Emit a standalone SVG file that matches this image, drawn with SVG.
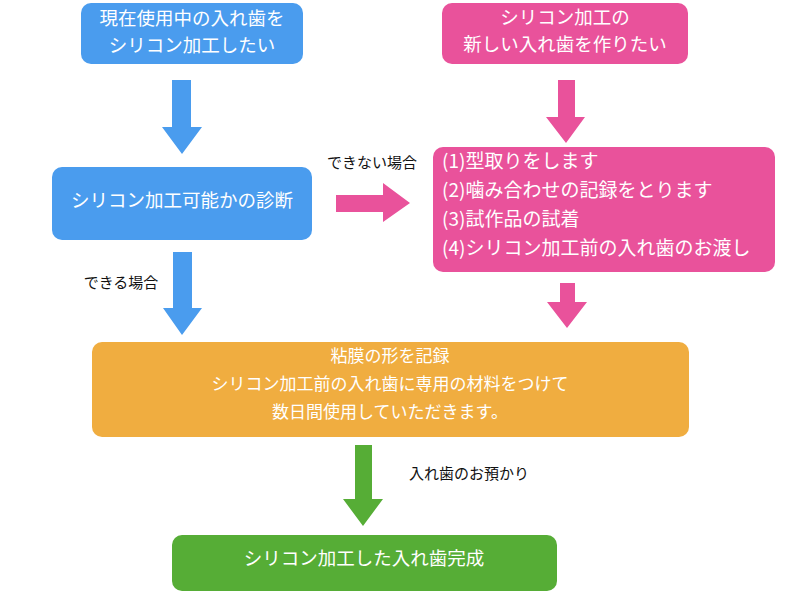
<svg xmlns="http://www.w3.org/2000/svg" width="800" height="599" viewBox="0 0 800 599">
<style>
  text { font-family: "Noto Sans CJK JP", "Noto Sans", sans-serif; }
  .w { fill: #ffffff; font-size: 18.5px; }
  .list { font-size: 19px; }
  .sm { font-size: 17px; }
  .lbl { fill: #111111; font-size: 15px; }
  .blue { fill: #4A9CEE; }
  .pink { fill: #E9529B; }
  .orange { fill: #F0AD40; }
  .green { fill: #56AD36; }
</style>
<rect width="800" height="599" fill="#ffffff"/>
<g id="connectors">
  <polygon class="blue" points="172,80 191,80 191,127 202,127 182,154 162,127 172,127"/>
  <polygon class="pink" points="558,80 575,80 575,117 585,117 566,143 546,117 558,117"/>
  <polygon class="pink" points="336,195 383,195 383,183 410,203 383,222 383,212 336,212"/>
  <polygon class="blue" points="173,252 192,252 192,308 202,308 182,335 163,308 173,308"/>
  <polygon class="pink" points="560,283 575,283 575,302 587,302 567,328 547,302 560,302"/>
  <polygon class="green" points="355,445 372,445 372,499 383,499 363,526 343,499 355,499"/>
  <text class="lbl" x="372" y="168" text-anchor="middle">できない場合</text>
  <text class="lbl" x="121" y="288" text-anchor="middle">できる場合</text>
  <text class="lbl" x="469" y="479" text-anchor="middle">入れ歯のお預かり</text>
</g>
<g id="n1">
  <rect class="blue" x="81" y="3" width="222" height="61" rx="10"/>
  <text class="w" x="192" y="25" text-anchor="middle">現在使用中の入れ歯を</text>
  <text class="w" x="192" y="52" text-anchor="middle">シリコン加工したい</text>
</g>
<g id="n2">
  <rect class="pink" x="442" y="3" width="246" height="61" rx="10"/>
  <text class="w" x="565" y="24" text-anchor="middle">シリコン加工の</text>
  <text class="w" x="565" y="51" text-anchor="middle">新しい入れ歯を作りたい</text>
</g>
<g id="n3">
  <rect class="blue" x="52" y="167" width="260" height="73" rx="10"/>
  <text class="w" x="182" y="207" text-anchor="middle">シリコン加工可能かの診断</text>
</g>
<g id="n4">
  <rect class="pink" x="433" y="147" width="342" height="125" rx="10"/>
  <text class="w list" x="442" y="168">(1)型取りをします</text>
  <text class="w list" x="442" y="197">(2)噛み合わせの記録をとります</text>
  <text class="w list" x="442" y="226">(3)試作品の試着</text>
  <text class="w list" x="442" y="255">(4)シリコン加工前の入れ歯のお渡し</text>
</g>
<g id="n5">
  <rect class="orange" x="92" y="342" width="597" height="95" rx="10"/>
  <text class="w sm" x="390" y="362" text-anchor="middle">粘膜の形を記録</text>
  <text class="w sm" x="390" y="390" text-anchor="middle">シリコン加工前の入れ歯に専用の材料をつけて</text>
  <text class="w sm" x="390" y="418" text-anchor="middle">数日間使用していただきます。</text>
</g>
<g id="n6">
  <rect class="green" x="172" y="535" width="385" height="56" rx="10"/>
  <text class="w" x="364" y="565" text-anchor="middle">シリコン加工した入れ歯完成</text>
</g>
</svg>
